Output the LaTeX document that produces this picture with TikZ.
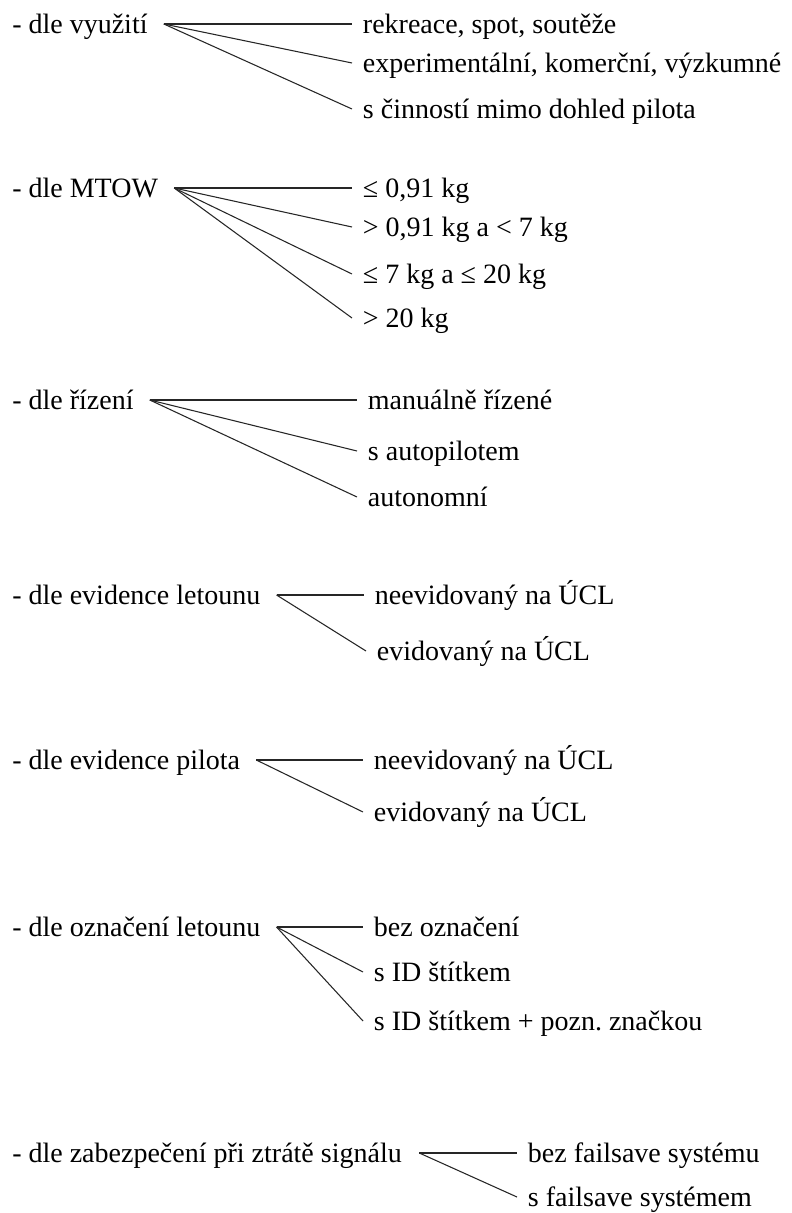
\documentclass[tikz,border=0pt]{standalone}
\usepackage{fontspec}
\setmainfont{Liberation Serif}
\usetikzlibrary{positioning}

\tikzset{
  cat/.style={anchor=west, inner xsep=0pt, inner ysep=0pt,
    text height=16.6pt, text depth=2pt, font=\fontsize{21}{25}\selectfont},
  item/.style={anchor=west, inner xsep=8pt, inner ysep=0pt,
    text height=16.6pt, text depth=2pt, font=\fontsize{21}{25}\selectfont},
  fan/.style={line width=0.8pt, black!85}
}

\begin{document}
\begin{tikzpicture}[x=0.75pt,y=-0.75pt]
        \useasboundingbox (0,0) rectangle (792,1213);

        \node [cat] (vyuz) at (12,24) {- dle využití};
        \coordinate [right=12pt of vyuz] (vyuz-o);
        \node [item] (vyuz-1) at (352,24) {rekreace, spot, soutěže};
        \node [item] (vyuz-2) at (352,63) {experimentální, komerční, výzkumné};
        \node [item] (vyuz-3) at (352,109) {s činností mimo dohled pilota};
        \draw [fan] (vyuz-o) -- (vyuz-1.west);
        \draw [fan] (vyuz-o) -- (vyuz-2.west);
        \draw [fan] (vyuz-o) -- (vyuz-3.west);

        \node [cat] (mtow) at (12,188) {- dle MTOW};
        \coordinate [right=12pt of mtow] (mtow-o);
        \node [item] (mtow-1) at (352,188) {≤ 0,91 kg};
        \node [item] (mtow-2) at (352,227) {> 0,91 kg a < 7 kg};
        \node [item] (mtow-3) at (352,274) {≤ 7 kg a ≤ 20 kg};
        \node [item] (mtow-4) at (352,318) {> 20 kg};
        \draw [fan] (mtow-o) -- (mtow-1.west);
        \draw [fan] (mtow-o) -- (mtow-2.west);
        \draw [fan] (mtow-o) -- (mtow-3.west);
        \draw [fan] (mtow-o) -- (mtow-4.west);

        \node [cat] (rize) at (12,400) {- dle řízení};
        \coordinate [right=12pt of rize] (rize-o);
        \node [item] (rize-1) at (357,400) {manuálně řízené};
        \node [item] (rize-2) at (357,451) {s autopilotem};
        \node [item] (rize-3) at (357,497) {autonomní};
        \draw [fan] (rize-o) -- (rize-1.west);
        \draw [fan] (rize-o) -- (rize-2.west);
        \draw [fan] (rize-o) -- (rize-3.west);

        \node [cat] (evlet) at (12,595) {- dle evidence letounu};
        \coordinate [right=12pt of evlet] (evlet-o);
        \node [item] (evlet-1) at (364,595) {neevidovaný na ÚCL};
        \node [item] (evlet-2) at (366,651) {evidovaný na ÚCL};
        \draw [fan] (evlet-o) -- (evlet-1.west);
        \draw [fan] (evlet-o) -- (evlet-2.west);

        \node [cat] (evpil) at (12,760) {- dle evidence pilota};
        \coordinate [right=12pt of evpil] (evpil-o);
        \node [item] (evpil-1) at (363,760) {neevidovaný na ÚCL};
        \node [item] (evpil-2) at (363,812) {evidovaný na ÚCL};
        \draw [fan] (evpil-o) -- (evpil-1.west);
        \draw [fan] (evpil-o) -- (evpil-2.west);

        \node [cat] (ozn) at (12,927) {- dle označení letounu};
        \coordinate [right=12pt of ozn] (ozn-o);
        \node [item] (ozn-1) at (363,927) {bez označení};
        \node [item] (ozn-2) at (363,972) {s ID štítkem};
        \node [item] (ozn-3) at (363,1021) {s ID štítkem + pozn.\ značkou};
        \draw [fan] (ozn-o) -- (ozn-1.west);
        \draw [fan] (ozn-o) -- (ozn-2.west);
        \draw [fan] (ozn-o) -- (ozn-3.west);

        \node [cat] (fail) at (12,1153) {- dle zabezpečení při ztrátě signálu};
        \coordinate [right=13pt of fail] (fail-o);
        \node [item] (fail-1) at (517,1153) {bez failsave systému};
        \node [item] (fail-2) at (517,1197) {s failsave systémem};
        \draw [fan] (fail-o) -- (fail-1.west);
        \draw [fan] (fail-o) -- (fail-2.west);
      \end{tikzpicture}
\end{document}
